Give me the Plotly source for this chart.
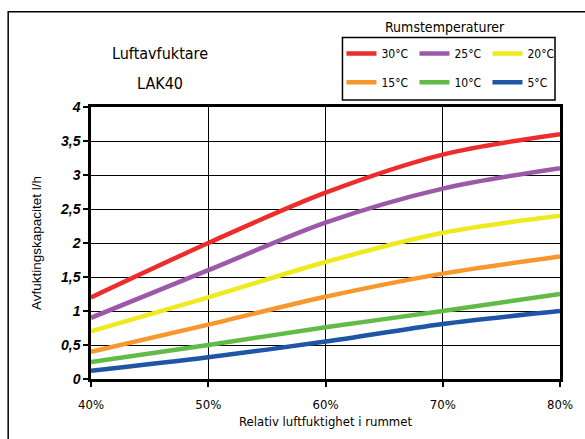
import plotly.graph_objects as go

humidity = [40, 50, 60, 70, 80]
series_names = ["30°C", "25°C", "20°C", "15°C", "10°C", "5°C"]
cap_30 = [1.2, 2.0, 2.74, 3.3, 3.6]
cap_25 = [0.9, 1.6, 2.3, 2.8, 3.1]
cap_20 = [0.7, 1.2, 1.72, 2.15, 2.4]
cap_15 = [0.4, 0.8, 1.21, 1.55, 1.8]
cap_10 = [0.25, 0.5, 0.76, 1.0, 1.25]
cap_5 = [0.12, 0.32, 0.55, 0.81, 1.0]
series_values = [cap_30, cap_25, cap_20, cap_15, cap_10, cap_5]
colors = ["#ee2c2c", "#9b59a8", "#eeea1e", "#f7972e", "#62bb47", "#1f55a5"]

x_ticks = [40, 50, 60, 70, 80]
x_ticklabels = ["40%", "50%", "60%", "70%", "80%"]
y_ticks = [0, 0.5, 1, 1.5, 2, 2.5, 3, 3.5, 4]
y_ticklabels = ["0", "0,5", "1", "1,5", "2", "2,5", "3", "3,5", "4"]

W, H = 585, 439
L, R, T, B = 91, 24, 107, 58
pw, ph = W - L - R, H - T - B

def px(xp):
    return (xp - L) / pw

def py(yp):
    return (H - B - yp) / ph

cond = "DejaVu Sans Condensed, DejaVu Sans, sans-serif"

fig = go.Figure()
for i, (name, vals, col) in enumerate(zip(series_names, series_values, colors)):
    fig.add_trace(go.Scatter(
        x=humidity, y=vals, name=name, mode="lines",
        line=dict(color=col, width=4.5, shape="spline", smoothing=0.9),
        legend="legend" if i < 3 else "legend2",
    ))

legend_common = dict(
    orientation="h", xanchor="left", yanchor="middle",
    bgcolor="rgba(0,0,0,0)", borderwidth=0,
    font=dict(family=cond, size=12, color="black"),
    entrywidth=28, itemwidth=30, tracegroupgap=0,
)
fig.update_layout(
    width=W, height=H,
    margin=dict(l=L, r=R, t=T, b=B),
    paper_bgcolor="white", plot_bgcolor="white",
    showlegend=True,
    legend=dict(x=px(342), y=py(53), **legend_common),
    legend2=dict(x=px(342), y=py(82), **legend_common),
    xaxis=dict(
        range=[40, 80], tickvals=x_ticks, ticktext=x_ticklabels,
        showgrid=True, gridcolor="black", gridwidth=1,
        showline=True, linecolor="black", linewidth=2.5, mirror=True,
        ticks="outside", ticklen=5, tickwidth=2, tickcolor="black",
        ticklabelstandoff=7,
        tickfont=dict(family=cond, size=13, color="black"),
        title=dict(text="Relativ luftfuktighet i rummet", standoff=6,
                   font=dict(family=cond, size=13, color="black")),
        zeroline=False,
    ),
    yaxis=dict(
        range=[0, 4], tickvals=y_ticks, ticktext=y_ticklabels,
        showgrid=True, gridcolor="black", gridwidth=1,
        showline=True, linecolor="black", linewidth=2.5, mirror=True,
        ticks="outside", ticklen=5, tickwidth=2, tickcolor="black",
        tickfont=dict(family="Liberation Sans, Arial", size=14, color="black",
                      weight="bold", style="italic"),
        title=dict(text="Avfuktingskapacitet l/h", standoff=16,
                   font=dict(family="Liberation Sans, Arial", size=13.5, color="black")),
        zeroline=False,
    ),
    shapes=[
        dict(type="rect", xref="paper", yref="paper",
             x0=px(8), x1=px(620), y0=py(480), y1=py(11),
             line=dict(color="black", width=1.5), fillcolor="rgba(0,0,0,0)", layer="below"),
        dict(type="rect", xref="paper", yref="paper",
             x0=px(343), x1=px(556), y0=py(100), y1=py(37),
             line=dict(color="black", width=1.5), fillcolor="rgba(0,0,0,0)", layer="below"),
    ],
    annotations=[
        dict(text="Luftavfuktare", xref="paper", yref="paper", x=px(160), y=py(53),
             xanchor="center", yanchor="middle",
             showarrow=False, font=dict(family=cond, size=16, color="black")),
        dict(text="LAK40", xref="paper", yref="paper", x=px(160), y=py(83),
             xanchor="center", yanchor="middle",
             showarrow=False, font=dict(family=cond, size=16, color="black")),
        dict(text="Rumstemperaturer", xref="paper", yref="paper", x=px(446), y=py(26),
             xanchor="center", yanchor="middle",
             showarrow=False, font=dict(family=cond, size=14, color="black")),
    ],
)

fig.write_html("out.html", config={"displayModeBar": False},
               post_script="document.body.style.margin='0';document.body.style.overflow='hidden';")
